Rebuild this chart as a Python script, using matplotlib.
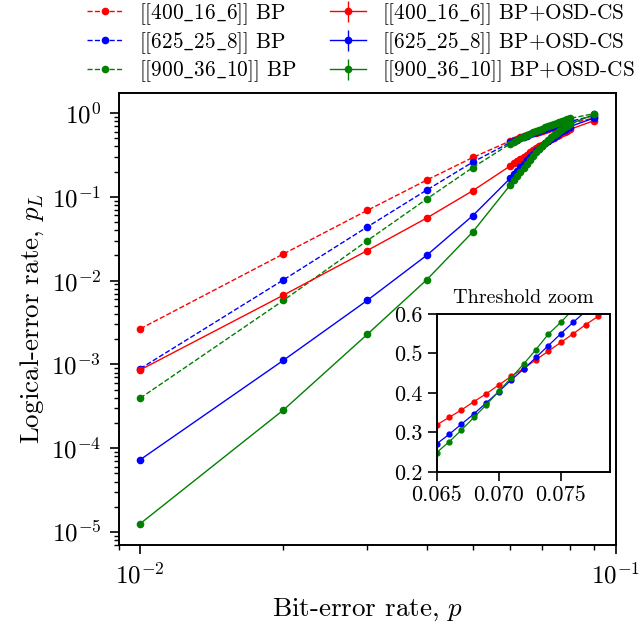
import matplotlib
matplotlib.use("Agg")
import matplotlib.pyplot as plt
import numpy as np

plt.rcParams['font.family'] = 'serif'
plt.rcParams['font.serif'] = ['cmr10']
plt.rcParams['mathtext.fontset'] = 'cm'
plt.rcParams['axes.formatter.use_mathtext'] = True
plt.rcParams['axes.unicode_minus'] = False

# ---------------- data ----------------
p = [0.01, 0.02, 0.03, 0.04, 0.05,
     0.060, 0.061, 0.062, 0.063, 0.064, 0.065, 0.066, 0.067, 0.068, 0.069, 0.070,
     0.071, 0.072, 0.073, 0.074, 0.075, 0.076, 0.077, 0.078, 0.079, 0.080,
     0.09]

bp_400 = [2.66e-3, 2.08e-2, 6.87e-2, 0.158, 0.294,
          0.464, 0.479, 0.494, 0.510, 0.524, 0.539, 0.555, 0.569, 0.584, 0.599, 0.613,
          0.628, 0.641, 0.656, 0.669, 0.683, 0.696, 0.709, 0.722, 0.735, 0.748,
          0.87]
bp_625 = [8.9e-4, 1.02e-2, 4.36e-2, 0.120, 0.259,
          0.445, 0.463, 0.481, 0.500, 0.517, 0.535, 0.553, 0.571, 0.590, 0.607, 0.625,
          0.642, 0.659, 0.676, 0.693, 0.710, 0.727, 0.743, 0.759, 0.775, 0.790,
          0.93]
bp_900 = [3.96e-4, 5.8e-3, 2.99e-2, 0.094, 0.223,
          0.430, 0.452, 0.474, 0.497, 0.518, 0.540, 0.562, 0.585, 0.606, 0.628, 0.650,
          0.672, 0.694, 0.716, 0.738, 0.760, 0.780, 0.800, 0.821, 0.840, 0.860,
          0.98]

osd_400 = [8.6e-4, 6.7e-3, 2.28e-2, 0.0557, 0.118,
           0.234, 0.250, 0.267, 0.284, 0.301, 0.319, 0.338, 0.357, 0.378, 0.398, 0.420,
           0.442, 0.462, 0.484, 0.506, 0.528, 0.550, 0.573, 0.594, 0.615, 0.636,
           0.81]
osd_625 = [7.3e-5, 1.12e-3, 5.8e-3, 0.0200, 0.0594,
           0.167, 0.185, 0.204, 0.226, 0.248, 0.271, 0.295, 0.321, 0.347, 0.375, 0.403,
           0.433, 0.460, 0.490, 0.520, 0.550, 0.579, 0.607, 0.634, 0.661, 0.687,
           0.87]
osd_900 = [1.26e-5, 2.86e-4, 2.28e-3, 0.0102, 0.0380,
           0.139, 0.157, 0.177, 0.199, 0.223, 0.249, 0.276, 0.306, 0.338, 0.370, 0.404,
           0.438, 0.473, 0.510, 0.549, 0.579, 0.612, 0.645, 0.677, 0.707, 0.736,
           0.96]

US = "$\\_$"
codes = [f"[[400{US}16{US}6]]", f"[[625{US}25{US}8]]", f"[[900{US}36{US}10]]"]
colors = ["red", "blue", "green"]
bp_series = [bp_400, bp_625, bp_900]
osd_series = [osd_400, osd_625, osd_900]

# ---------------- figure ----------------
fig = plt.figure(figsize=(6.41, 6.24), dpi=100)
ax = fig.add_axes([0.1849, 0.1266, 0.776, 0.7244])

for code, c, ys in zip(codes, colors, bp_series):
    ax.plot(p, ys, '--', color=c, marker='o', markersize=4.5, linewidth=1.0,
            label=f"{code} BP")
for code, c, ys in zip(codes, colors, osd_series):
    ax.errorbar(p, ys, yerr=np.zeros(len(ys)), fmt='-', color=c, marker='o',
                markersize=4.5, linewidth=1.0, elinewidth=1.0,
                label=f"{code} BP+OSD-CS")

ax.set_xscale('log')
ax.set_yscale('log')
ax.set_xlim(0.009, 0.1)
ax.set_ylim(7e-6, 1.73)
ax.set_xlabel(r"Bit-error rate, $p$", fontsize=19.5, labelpad=6)
ax.set_ylabel(r"Logical-error rate, $p_L$", fontsize=19.5, labelpad=4)
ax.tick_params(axis='both', which='major', direction='out', length=6.5, width=1.2,
               labelsize=18, pad=6)
ax.tick_params(axis='both', which='minor', direction='out', length=3.5, width=1.0)
ax.xaxis.set_minor_formatter(matplotlib.ticker.NullFormatter())
for s in ax.spines.values():
    s.set_linewidth(1.4)

leg = ax.legend(ncol=2, loc='lower center', bbox_to_anchor=(0.487, 1.0),
                frameon=False, fontsize=15.3, handlelength=1.7, handletextpad=0.75,
                columnspacing=1.6, labelspacing=0.15, borderaxespad=0.0)

# ---------------- inset ----------------
ax_in = fig.add_axes([0.681, 0.2436, 0.2714, 0.2532])
for c, ys in zip(colors, osd_series):
    ax_in.plot(p, ys, '-', color=c, marker='o', markersize=3.5, linewidth=0.9)
ax_in.set_xlim(0.065, 0.079)
ax_in.set_ylim(0.2, 0.6)
ax_in.set_xticks([0.065, 0.070, 0.075])
ax_in.set_xticklabels(["0.065", "0.070", "0.075"])
ax_in.set_yticks([0.2, 0.3, 0.4, 0.5, 0.6])
ax_in.set_yticklabels(["0.2", "0.3", "0.4", "0.5", "0.6"])
ax_in.tick_params(direction='out', length=6.5, width=1.2, labelsize=16)
for s in ax_in.spines.values():
    s.set_linewidth(1.4)
ax_in.set_title("Threshold zoom", fontsize=14.5, pad=8)

fig.savefig("out.png", dpi=100)
